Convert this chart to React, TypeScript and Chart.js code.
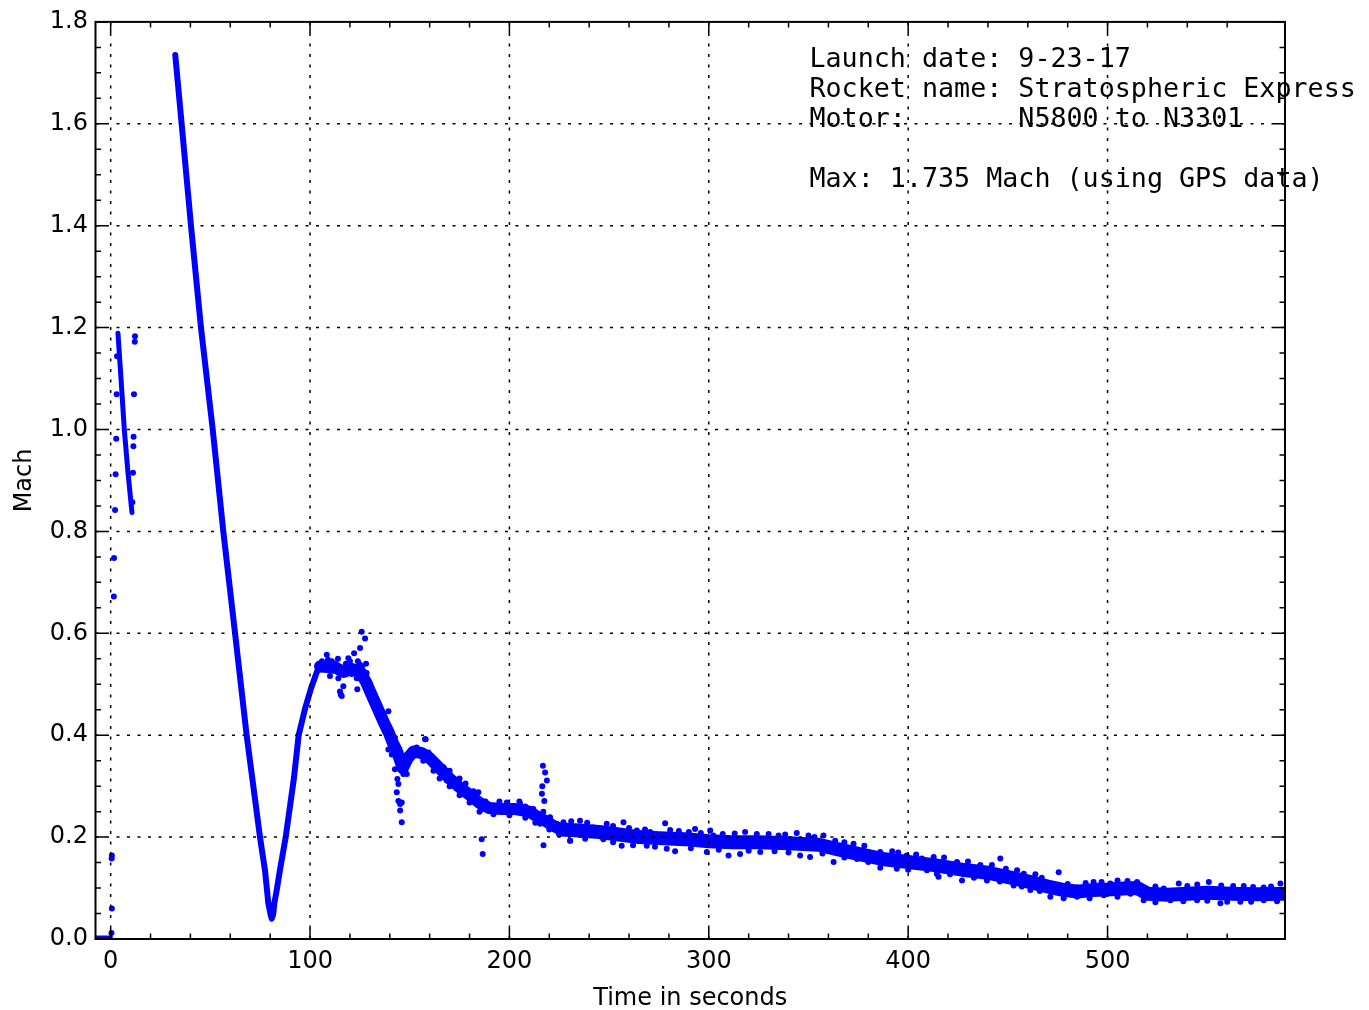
import React, { useEffect, useRef } from 'react';
import { Chart, registerables } from 'chart.js';

Chart.register(...registerables);

// ---- axes ----
const X_MIN = -7.6;
const X_MAX = 589;
const Y_MIN = 0;
const Y_MAX = 1.8;
const xMajorTicks = [0, 100, 200, 300, 400, 500];
const yMajorTicks = [0, 0.2, 0.4, 0.6, 0.8, 1.0, 1.2, 1.4, 1.6, 1.8];
const xMinorTicks = [0, 20, 40, 60, 80, 100, 120, 140, 160, 180, 200, 220, 240, 260, 280, 300, 320, 340, 360, 380, 400, 420, 440, 460, 480, 500, 520, 540, 560];
const yMinorTicks = [0, 0.05, 0.1, 0.15, 0.2, 0.25, 0.3, 0.35, 0.4, 0.45, 0.5, 0.55, 0.6, 0.65, 0.7, 0.75, 0.8, 0.85, 0.9, 0.95, 1.0, 1.05, 1.1, 1.15, 1.2, 1.25, 1.3, 1.35, 1.4, 1.45, 1.5, 1.55, 1.6, 1.65, 1.7, 1.75];

const annotationLines = [
  'Launch date: 9-23-17',
  'Rocket name: Stratospheric Express',
  'Motor:       N5800 to N3301',
  '',
  'Max: 1.735 Mach (using GPS data)',
];

// ---- data (time in s, Mach) ----
const padT = [-7.6, 0.4];
const padM = [0.004, 0.004];

const burnStreakT = [3.66, 5.2, 6.84, 8.7, 10.69];
const burnStreakM = [1.189, 1.1, 1.0, 0.915, 0.837];

const mainCurveT = [32.4, 35.6, 40.3, 45.3, 51.2, 56.5, 62.4, 68.2, 74.9, 77.4, 79.1, 80.2, 80.8, 81.5, 82.1, 83.3, 84.9, 87.8, 92.0, 94.3, 97.5, 100.5, 103.5, 106];
const mainCurveM = [1.735, 1.6, 1.4, 1.2, 1.0, 0.8, 0.6, 0.4, 0.2, 0.135, 0.07, 0.048, 0.04, 0.048, 0.07, 0.096, 0.135, 0.2, 0.318, 0.4, 0.452, 0.492, 0.525, 0.536];

const coastMidT = [105, 109, 113, 117, 121, 125, 128, 131, 134, 137, 139.5, 141.5, 143.5, 146.5, 149, 152, 156, 160, 165, 170, 175, 180, 185, 190, 196, 203, 210, 214, 218, 222, 226];
const coastMidM = [0.535, 0.534, 0.532, 0.524, 0.53, 0.525, 0.505, 0.478, 0.452, 0.425, 0.405, 0.385, 0.37, 0.335, 0.355, 0.368, 0.365, 0.355, 0.335, 0.315, 0.298, 0.283, 0.267, 0.257, 0.255, 0.255, 0.25, 0.24, 0.232, 0.222, 0.215];

const coastTailT = [226, 235, 245, 255, 265, 275, 288, 300, 312, 325, 340, 355, 365, 375, 387, 400, 413, 427, 440, 452, 462, 470, 477, 485, 492, 500, 508, 515, 520, 530, 540, 550, 562, 575, 588];
const coastTailM = [0.215, 0.213, 0.21, 0.205, 0.2, 0.198, 0.196, 0.192, 0.19, 0.19, 0.188, 0.185, 0.176, 0.167, 0.157, 0.151, 0.145, 0.136, 0.13, 0.12, 0.111, 0.103, 0.097, 0.093, 0.096, 0.097, 0.099, 0.1, 0.089, 0.087, 0.089, 0.091, 0.089, 0.088, 0.089];

const launchDotsT = [0.4, 0.6, 0.5, 0.6, 1.6, 1.7, 2.2, 2.5, 2.8, 3.0, 3.2, 12.2, 12.1, 11.7, 11.5, 11.4, 11.2, 10.9];
const launchDotsM = [0.012, 0.06, 0.158, 0.164, 0.672, 0.748, 0.842, 0.912, 0.982, 1.069, 1.144, 1.183, 1.172, 1.069, 0.986, 0.967, 0.915, 0.857];

const humpDotsT = [108.4, 110, 112.5, 114.2, 115, 115.4, 115.9, 116.7, 117.6, 119.2, 120.9, 122.1, 123.4, 123.7, 125.1, 125.9, 127.6, 125, 128.1, 128.4, 127.6, 128.8, 130.1, 131.8, 133.5, 134.3, 135.1, 136.8, 138.5, 139.3, 137.6, 140.1, 142.6, 140.1, 139.3, 141, 142.6, 143.8, 144.3, 143.5, 144.3, 145.2, 145.2, 146, 146, 146.8, 148.5, 147.7, 146.8, 149.3, 151, 153.5, 155.2, 156.8, 158, 159.4, 141.8, 150.2, 157.7, 160.2, 161.9, 166.9, 168.6, 173.6, 176.9, 180.3, 184.4, 185.3, 187, 186.1, 186.6, 190.3, 193.7, 198.7, 200.3, 205.4, 210.4, 213.7, 215.4, 216.3, 216.8, 217.9, 218.8, 216.5, 217.5, 217.1, 217, 220.4, 223.8, 227.1, 232.1, 237.1, 230.5,
  106, 107, 109, 111, 113, 114, 116, 118, 120, 121, 122, 124, 126, 127, 129, 130, 132, 133, 135, 136, 138];
const humpDotsM = [0.558, 0.516, 0.532, 0.512, 0.486, 0.48, 0.477, 0.496, 0.525, 0.551, 0.535, 0.561, 0.512, 0.49, 0.571, 0.603, 0.59, 0.539, 0.54, 0.522, 0.499, 0.486, 0.483, 0.473, 0.46, 0.447, 0.441, 0.428, 0.421, 0.447, 0.408, 0.398, 0.395, 0.389, 0.372, 0.362, 0.333, 0.314, 0.304, 0.288, 0.271, 0.265, 0.252, 0.229, 0.268, 0.324, 0.324, 0.343, 0.356, 0.362, 0.372, 0.376, 0.362, 0.35, 0.392, 0.366, 0.362, 0.369, 0.392, 0.356, 0.33, 0.337, 0.311, 0.304, 0.291, 0.278, 0.288, 0.265, 0.255, 0.196, 0.167, 0.258, 0.255, 0.268, 0.252, 0.265, 0.252, 0.239, 0.226, 0.285, 0.34, 0.327, 0.311, 0.3, 0.271, 0.184, 0.25, 0.239, 0.226, 0.213, 0.206, 0.213, 0.193,
  0.545, 0.54, 0.548, 0.545, 0.54, 0.55, 0.53, 0.54, 0.545, 0.52, 0.53, 0.545, 0.535, 0.525, 0.5, 0.5, 0.48, 0.47, 0.455, 0.44, 0.43];

const coastDotsT = [170, 175, 178, 182, 188, 195, 205, 208, 212, 165, 170, 175, 180, 185, 192, 200, 208, 213, 220, 225,
  227.1, 235.4, 242.1, 248.8, 257.2, 263.9, 270.6, 278.1, 280.6, 293.1, 300.7, 302.3, 318.2, 324.1, 338.3, 344.1, 357.5, 363.4, 372.6, 386, 399.3, 406.9,
  230.4, 247.1, 256.3, 268.9, 278.9, 283.1, 299, 309.9, 315.7, 325.8, 345.8, 350.8, 362.6, 374.3, 386, 394.3, 409.4, 415.2,
  412.8, 424.5, 436.2, 446.2, 454.6, 463.8, 475.5, 484.7, 493, 501.4, 514.8, 528.2, 535.7, 550.8, 568.3, 578.3, 586.7,
  414.4, 427, 439.5, 452.9, 461.3, 471.3, 484.7, 498.1, 511.5, 518.1, 531.5, 544.9, 556.6, 566.6, 578.3,
  231, 239, 252, 260, 268, 285, 290, 296, 307, 313, 330, 335, 350, 353, 368, 378, 392, 395, 404, 418, 430, 442, 449, 458, 467, 480, 489, 497, 505, 510, 524, 540, 545, 557, 563, 573, 582,
  238, 252, 262, 273, 291, 305, 320, 333, 340, 357, 368, 380, 400, 421, 433, 446, 457, 466, 478, 491, 505, 524, 538, 550, 560, 572, 585];
const coastDotsM = [0.33, 0.315, 0.305, 0.29, 0.27, 0.27, 0.27, 0.26, 0.255, 0.315, 0.3, 0.282, 0.268, 0.25, 0.245, 0.243, 0.238, 0.228, 0.215, 0.205,
  0.229, 0.232, 0.219, 0.226, 0.229, 0.213, 0.21, 0.227, 0.214, 0.216, 0.213, 0.203, 0.21, 0.206, 0.205, 0.208, 0.203, 0.193, 0.187, 0.171, 0.164, 0.158,
  0.193, 0.196, 0.183, 0.183, 0.177, 0.172, 0.171, 0.164, 0.167, 0.171, 0.164, 0.161, 0.151, 0.157, 0.14, 0.138, 0.135, 0.122,
  0.161, 0.151, 0.145, 0.158, 0.135, 0.127, 0.131, 0.101, 0.112, 0.109, 0.112, 0.099, 0.109, 0.112, 0.104, 0.101, 0.109,
  0.128, 0.115, 0.115, 0.105, 0.096, 0.083, 0.083, 0.086, 0.089, 0.076, 0.076, 0.076, 0.07, 0.073, 0.076,
  0.231, 0.228, 0.222, 0.218, 0.215, 0.212, 0.21, 0.208, 0.206, 0.207, 0.206, 0.203, 0.203, 0.2, 0.19, 0.183, 0.172, 0.17, 0.166, 0.16, 0.152, 0.145, 0.138, 0.128, 0.12, 0.108, 0.11, 0.112, 0.115, 0.114, 0.103, 0.104, 0.107, 0.105, 0.104, 0.102, 0.103,
  0.197, 0.19, 0.184, 0.181, 0.178, 0.175, 0.173, 0.172, 0.17, 0.168, 0.16, 0.151, 0.136, 0.127, 0.12, 0.113, 0.103, 0.094, 0.08, 0.08, 0.083, 0.072, 0.074, 0.075, 0.073, 0.073, 0.074];

const BLUE = '#0000ff';
const FONT = '"DejaVu Sans", sans-serif';

const pts = (t: number[], m: number[]) => t.map((v, i) => ({ x: v, y: m[i] }));

const lineSet = (t: number[], m: number[], w: number) => ({
  data: pts(t, m),
  showLine: true,
  borderColor: BLUE,
  backgroundColor: BLUE,
  borderWidth: w,
  borderCapStyle: 'round',
  borderJoinStyle: 'round',
  pointRadius: 0,
  tension: 0,
});

const dotSet = (t: number[], m: number[]) => ({
  data: pts(t, m),
  showLine: false,
  backgroundColor: BLUE,
  borderColor: BLUE,
  borderWidth: 0,
  pointRadius: 3,
  pointHoverRadius: 3,
});

const framePlugin = {
  id: 'mplFrame',
  afterDatasetsDraw(chart: any) {
    const { ctx, chartArea, scales } = chart;
    const { left, right, top, bottom } = chartArea;
    const xs = scales.x;
    const ys = scales.y;
    ctx.save();
    // dotted grid
    ctx.strokeStyle = '#000';
    ctx.lineWidth = 1.5;
    ctx.setLineDash([3, 7.5]);
    ctx.beginPath();
    xMajorTicks.forEach((v) => {
      const X = xs.getPixelForValue(v);
      if (X <= left + 1 || X >= right - 1) return;
      ctx.moveTo(X, bottom);
      ctx.lineTo(X, top);
    });
    yMajorTicks.forEach((v) => {
      const Y = ys.getPixelForValue(v);
      if (Y <= top + 1 || Y >= bottom - 1) return;
      ctx.moveTo(left, Y);
      ctx.lineTo(right, Y);
    });
    ctx.stroke();
    ctx.setLineDash([]);
    // inward ticks on all four sides
    ctx.lineWidth = 1.5;
    ctx.beginPath();
    const major = 11;
    const minor = 5.5;
    xMinorTicks.forEach((v) => {
      const X = xs.getPixelForValue(v);
      ctx.moveTo(X, bottom); ctx.lineTo(X, bottom - minor);
      ctx.moveTo(X, top); ctx.lineTo(X, top + minor);
    });
    xMajorTicks.forEach((v) => {
      const X = xs.getPixelForValue(v);
      ctx.moveTo(X, bottom); ctx.lineTo(X, bottom - major);
      ctx.moveTo(X, top); ctx.lineTo(X, top + major);
    });
    yMinorTicks.forEach((v) => {
      const Y = ys.getPixelForValue(v);
      ctx.moveTo(left, Y); ctx.lineTo(left + minor, Y);
      ctx.moveTo(right, Y); ctx.lineTo(right - minor, Y);
    });
    yMajorTicks.forEach((v) => {
      const Y = ys.getPixelForValue(v);
      ctx.moveTo(left, Y); ctx.lineTo(left + major, Y);
      ctx.moveTo(right, Y); ctx.lineTo(right - major, Y);
    });
    ctx.stroke();
    // frame
    ctx.lineWidth = 2;
    ctx.strokeRect(left, top, right - left, bottom - top);
    // annotation text
    ctx.fillStyle = '#000';
    ctx.font = '26.7px "DejaVu Sans Mono", monospace';
    ctx.textAlign = 'left';
    ctx.textBaseline = 'alphabetic';
    const tx = xs.getPixelForValue(350.5);
    const ty0 = ys.getPixelForValue(1.711);
    annotationLines.forEach((s, i) => {
      if (s) ctx.fillText(s, tx, ty0 + i * 30);
    });
    ctx.restore();
  },
};

export default function App() {
  const ref = useRef<HTMLCanvasElement | null>(null);
  useEffect(() => {
    if (!ref.current) return;
    const chart = new Chart(ref.current, {
      type: 'scatter',
      data: {
        datasets: [
          lineSet(padT, padM, 3),
          lineSet(burnStreakT, burnStreakM, 5),
          lineSet(mainCurveT, mainCurveM, 6),
          lineSet(coastMidT, coastMidM, 12),
          lineSet(coastTailT, coastTailM, 14),
          dotSet(launchDotsT, launchDotsM),
          dotSet(humpDotsT, humpDotsM),
          dotSet(coastDotsT, coastDotsM),
        ] as any,
      },
      options: {
        responsive: false,
        animation: false,
        events: [],
        layout: { padding: { left: 0, right: 84, top: 17.3, bottom: 0 } },
        plugins: { legend: { display: false }, tooltip: { enabled: false } },
        scales: {
          x: {
            type: 'linear',
            min: X_MIN,
            max: X_MAX,
            grid: { display: false, drawTicks: false },
            border: { display: false },
            afterBuildTicks: (s: any) => { s.ticks = xMajorTicks.map((v) => ({ value: v })); },
            afterFit: (s: any) => { s.height = 71; },
            ticks: {
              autoSkip: false,
              maxRotation: 0,
              padding: 8,
              color: '#000',
              font: { family: FONT, size: 24 },
              callback: (v: any) => String(v),
            },
            title: {
              display: true,
              text: 'Time in seconds',
              color: '#000',
              font: { family: FONT, size: 24 },
              padding: { top: 0, bottom: -3 },
            },
          },
          y: {
            type: 'linear',
            min: Y_MIN,
            max: Y_MAX,
            grid: { display: false, drawTicks: false },
            border: { display: false },
            afterBuildTicks: (s: any) => { s.ticks = yMajorTicks.map((v) => ({ value: v })); },
            afterFit: (s: any) => { s.width = 95.5; },
            ticks: {
              autoSkip: false,
              padding: 7.5,
              color: '#000',
              font: { family: FONT, size: 24 },
              callback: (v: any) => Number(v).toFixed(1),
            },
            title: {
              display: true,
              text: 'Mach',
              color: '#000',
              font: { family: FONT, size: 24 },
              padding: { top: 10, bottom: 0 },
            },
          },
        },
      } as any,
      plugins: [framePlugin],
    });
    return () => chart.destroy();
  }, []);
  return (
    <div style={{ position: 'fixed', left: 0, top: 0, width: 1369, height: 1010, background: '#fff' }}>
      <canvas ref={ref} width={1369} height={1010} style={{ width: 1369, height: 1010, display: 'block' }} />
    </div>
  );
}
